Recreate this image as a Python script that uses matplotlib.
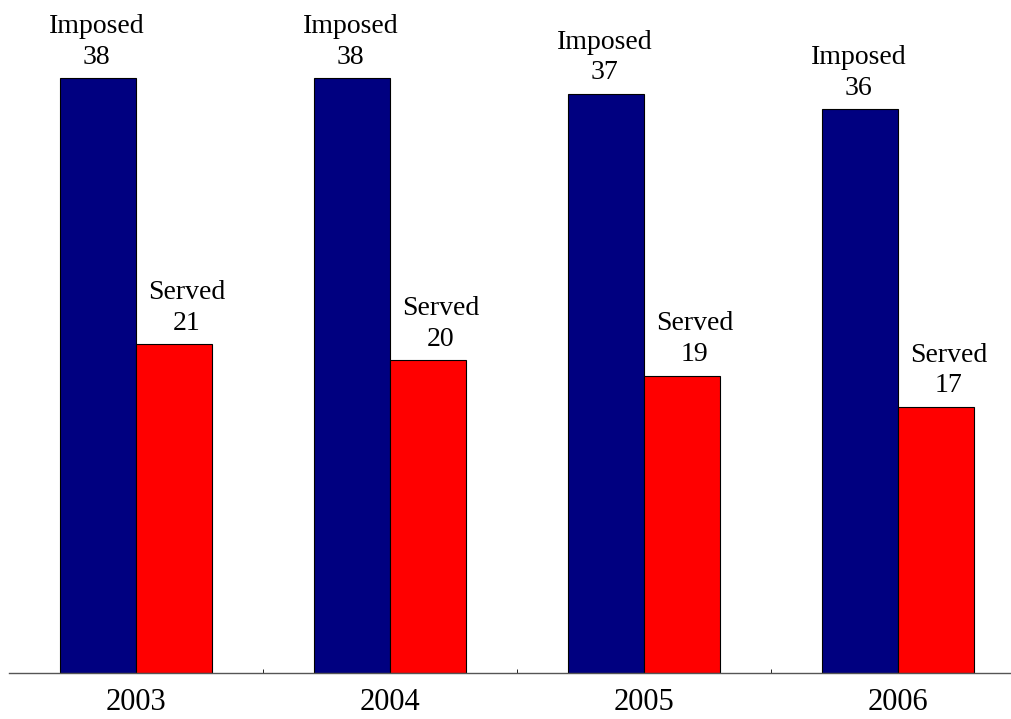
import matplotlib.pyplot as plt
import numpy as np

years = ["2003", "2004", "2005", "2006"]
imposed = [38, 38, 37, 36]
served = [21, 20, 19, 17]

W, H = 1012, 719
fig = plt.figure(figsize=(W / 100, H / 100), dpi=100)
# axes placed in pixel terms: left 9px, baseline at y=673
ax = fig.add_axes([9 / W, (H - 673) / H, (W - 9) / W, 673 / H])

x = np.arange(len(years))
w = 76 / 254
b1 = ax.bar(x - w / 2, imposed, w, color="#000080", edgecolor="black", linewidth=0.8)
b2 = ax.bar(x + w / 2, served, w, color="#FF0000", edgecolor="black", linewidth=0.8)

lab_font = dict(family="Liberation Serif", fontsize=20)
for rect, v in zip(b1, imposed):
    ax.annotate(f"Imposed\n{v}", (rect.get_x() + rect.get_width() / 2, v),
                xytext=(-1, 6), textcoords="offset points", ha="center", va="bottom",
                multialignment="center", linespacing=1.3, **lab_font)
for rect, v in zip(b2, served):
    ax.annotate(f"Served\n{v}", (rect.get_x() + rect.get_width() / 2, v),
                xytext=(9, 6), textcoords="offset points", ha="center", va="bottom",
                multialignment="center", linespacing=1.3, **lab_font)

ax.set_xlim(-0.5, (1012 - 136) / 254)
ax.set_ylim(0, 673 / (595 / 38))
ax.set_xticks(x)
ax.set_xticklabels(years, family="Liberation Serif", fontsize=22)
ax.set_xticks(x[:-1] + 0.5, minor=True)
ax.tick_params(axis="x", which="major", length=0, pad=11)
ax.tick_params(axis="x", which="minor", direction="in", length=3, color="black")
ax.set_yticks([])
for side in ["top", "right", "left"]:
    ax.spines[side].set_visible(False)
ax.spines["bottom"].set_color("#555555")
ax.spines["bottom"].set_linewidth(1.0)

fig.savefig("out.png", dpi=100)
